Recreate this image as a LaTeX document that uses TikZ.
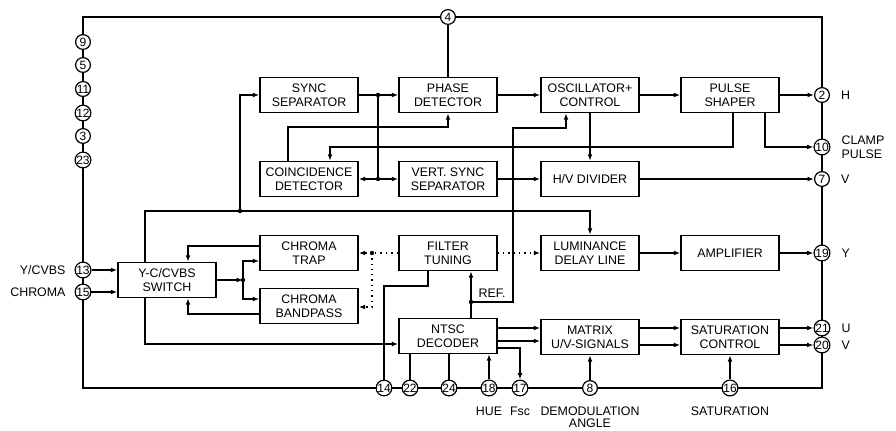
\documentclass[tikz,border=0pt]{standalone}
\usepackage{fontspec}
\setmainfont{Liberation Sans}
\usetikzlibrary{arrows.meta,positioning,calc}

\begin{document}
\begin{tikzpicture}[
    x=0.5pt, y=-0.5pt,
    font=\fontsize{6.2}{7}\selectfont,
    blk/.style={draw, line width=0.7pt, align=center, minimum width=49pt,
                minimum height=17.5pt, inner sep=1pt},
    pin/.style={draw, circle, fill=white, line width=0.6pt, minimum size=7.4pt,
                inner sep=0pt, font=\fontsize{6}{6}\selectfont},
    blbl/.style={inner sep=1pt, align=center, font=\fontsize{6.2}{6.2}\selectfont},
    wire/.style={line width=0.65pt},
    arr/.style={-{Latex[length=3.2pt,width=2.4pt]}, line width=0.65pt},
    tune/.style={dotted, line width=0.75pt}
]
\useasboundingbox (0,0) rectangle (896,431);

% chip outline and pins
\draw[wire] (83,17) rectangle (822,388);
\node[pin] (p4) at (448,17) {4};
\node[pin] (p9) at (83,42) {9};
\node[pin] (p5) at (83,65) {5};
\node[pin] (p11) at (83,89) {11};
\node[pin] (p12) at (83,113) {12};
\node[pin] (p3) at (83,136) {3};
\node[pin] (p23) at (83,160) {23};
\node[pin] (p13) at (83,270) {13};
\node[pin] (p15) at (83,292) {15};
\node[pin] (p2) at (822,95) {2};
\node[pin] (p10) at (822,147) {10};
\node[pin] (p7) at (822,179) {7};
\node[pin] (p19) at (822,253) {19};
\node[pin] (p21) at (822,328) {21};
\node[pin] (p20) at (822,345) {20};
\node[pin] (p14) at (384,388) {14};
\node[pin] (p22) at (410,388) {22};
\node[pin] (p24) at (449,388) {24};
\node[pin] (p18) at (489,388) {18};
\node[pin] (p17) at (520,388) {17};
\node[pin] (p8) at (590,388) {8};
\node[pin] (p16) at (730,388) {16};

% blocks
\node[blk] (sync) at (309,95) {SYNC\\SEPARATOR};
\node[blk] (phase) at (448,95) {PHASE\\DETECTOR};
\node[blk] (osc) at (590,95) {OSCILLATOR+\\CONTROL};
\node[blk] (pulse) at (730,95) {PULSE\\SHAPER};
\node[blk] (coinc) at (309,179) {COINCIDENCE\\DETECTOR};
\node[blk] (vsync) at (448,179) {VERT. SYNC\\SEPARATOR};
\node[blk] (hvdiv) at (590,179) {H/V DIVIDER};
\node[blk] (ycsw) at (167,280) {Y-C/CVBS\\SWITCH};
\node[blk] (trap) at (309,253) {CHROMA\\TRAP};
\node[blk] (bandp) at (309,306) {CHROMA\\BANDPASS};
\node[blk] (filt) at (448,253) {FILTER\\TUNING};
\node[blk] (luma) at (590,253) {LUMINANCE\\DELAY LINE};
\node[blk] (ampl) at (730,253) {AMPLIFIER};
\node[blk] (ntsc) at (448,336) {NTSC\\DECODER};
\node[blk] (matrix) at (590,337) {MATRIX\\U/V-SIGNALS};
\node[blk] (satur) at (730,337) {SATURATION\\CONTROL};

% pin labels
\node[left=1pt of p13] (lycvbs) {Y/CVBS};
\node[left=1pt of p15] (lchroma) {CHROMA};
\node[right=2pt of p2] (lh) {H};
\node[right=2pt of p10, align=left] (lclamp) {CLAMP\\PULSE};
\node[right=2pt of p7] (lv) {V};
\node[right=2pt of p19] (ly) {Y};
\node[right=2pt of p21] (lu) {U};
\node[right=2pt of p20] (lvv) {V};
\node[blbl, below=4pt of p18] (lhue) {HUE};
\node[blbl, below=4pt of p17] (lfsc) {Fsc};
\node[blbl, below=4pt of p8] (ldemod) {DEMODULATION\\ANGLE};
\node[blbl, below=4pt of p16] (lsat) {SATURATION};
\node (lref) at (492,293) {REF.};

% junctions
\coordinate (jsep) at (378,95);
\coordinate (jvs) at (378,179);
\coordinate (jsy) at (240,211);
\coordinate (jch) at (243,280);
\coordinate (jtn) at (372,253);
\coordinate (jref) at (471,302);

% sync section
\draw[wire] (p4) -- (phase);
\draw[arr] (sync) -- (phase);
\draw[wire] (jsep) -- (jvs);
\draw[arr] (jvs) -- (coinc);
\draw[arr] (jvs) -- (vsync);
\draw[arr] (phase) -- (osc);
\draw[arr] (osc) -- (pulse);
\draw[arr] (pulse) -- (p2);
\draw[arr] (288,0 |- coinc.north) |- (phase.south |- 0,127) -- (phase.south);
\draw[arr] (733,0 |- pulse.south) |- (330,147) -- (330,0 |- coinc.north);
\draw[arr] (765,0 |- pulse.south) |- (p10);
\draw[arr] (osc) -- (hvdiv);
\draw[arr] (vsync) -- (hvdiv);
\draw[arr] (hvdiv) -- (p7);
\draw[arr] (jref) -| (513,128) -| (566,0 |- osc.south);

% input switch and filters
\draw[arr] (p13) -- (ycsw.west |- p13);
\draw[arr] (p15) -- (ycsw.west |- p15);
\draw[arr] (145,0 |- ycsw.north) |- (luma.north |- jsy) -- (luma.north);
\draw[arr] (jsy) |- (sync.west);
\draw[arr] (145,0 |- ycsw.south) |- (ntsc.west |- 0,344);
\draw[arr] (ycsw.east |- jch) -- (jch);
\draw[arr] (jch) |- (trap.west |- 0,261);
\draw[arr] (jch) |- (bandp.west |- 0,299);
\draw[arr] (trap.west |- 0,246) -| (188,0 |- ycsw.north);
\draw[arr] (bandp.west |- 0,314) -| (188,0 |- ycsw.south);
\draw[tune] (filt) -- (jtn);
\draw[arr, tune] (jtn) -- (trap);
\draw[arr, tune] (jtn) |- (bandp.east |- 0,307);
\draw[arr, tune] (filt) -- (luma);
\draw[arr] (luma) -- (ampl);
\draw[arr] (ampl) -- (p19);
\draw[wire] (428,0 |- filt.south) |- (p14 |- 0,286) -- (p14);

% decoder section
\draw[arr] (471,0 |- ntsc.north) -- (471,0 |- filt.south);
\draw[wire] (p22 |- ntsc.south) -- (p22);
\draw[wire] (p24 |- ntsc.south) -- (p24);
\draw[arr] (p18) -- (p18 |- ntsc.south);
\draw[arr] (ntsc.east |- 0,348) -| (p17);
\draw[arr] (ntsc.east |- 0,328) -- (matrix.west |- 0,328);
\draw[arr] (ntsc.east |- 0,341) -- (matrix.west |- 0,341);
\draw[arr] (matrix.east |- p21) -- (satur.west |- p21);
\draw[arr] (matrix.east |- p20) -- (satur.west |- p20);
\draw[arr] (satur.east |- p21) -- (p21);
\draw[arr] (satur.east |- p20) -- (p20);
\draw[arr] (p8) -- (matrix);
\draw[arr] (p16) -- (satur);

% junction dots
\fill (jsep) circle[radius=1.1pt];
\fill (jvs) circle[radius=1.1pt];
\fill (jsy) circle[radius=1.1pt];
\fill (jch) circle[radius=1.1pt];
\fill (jtn) circle[radius=1.1pt];
\fill (jref) circle[radius=1.1pt];
\end{tikzpicture}
\end{document}
